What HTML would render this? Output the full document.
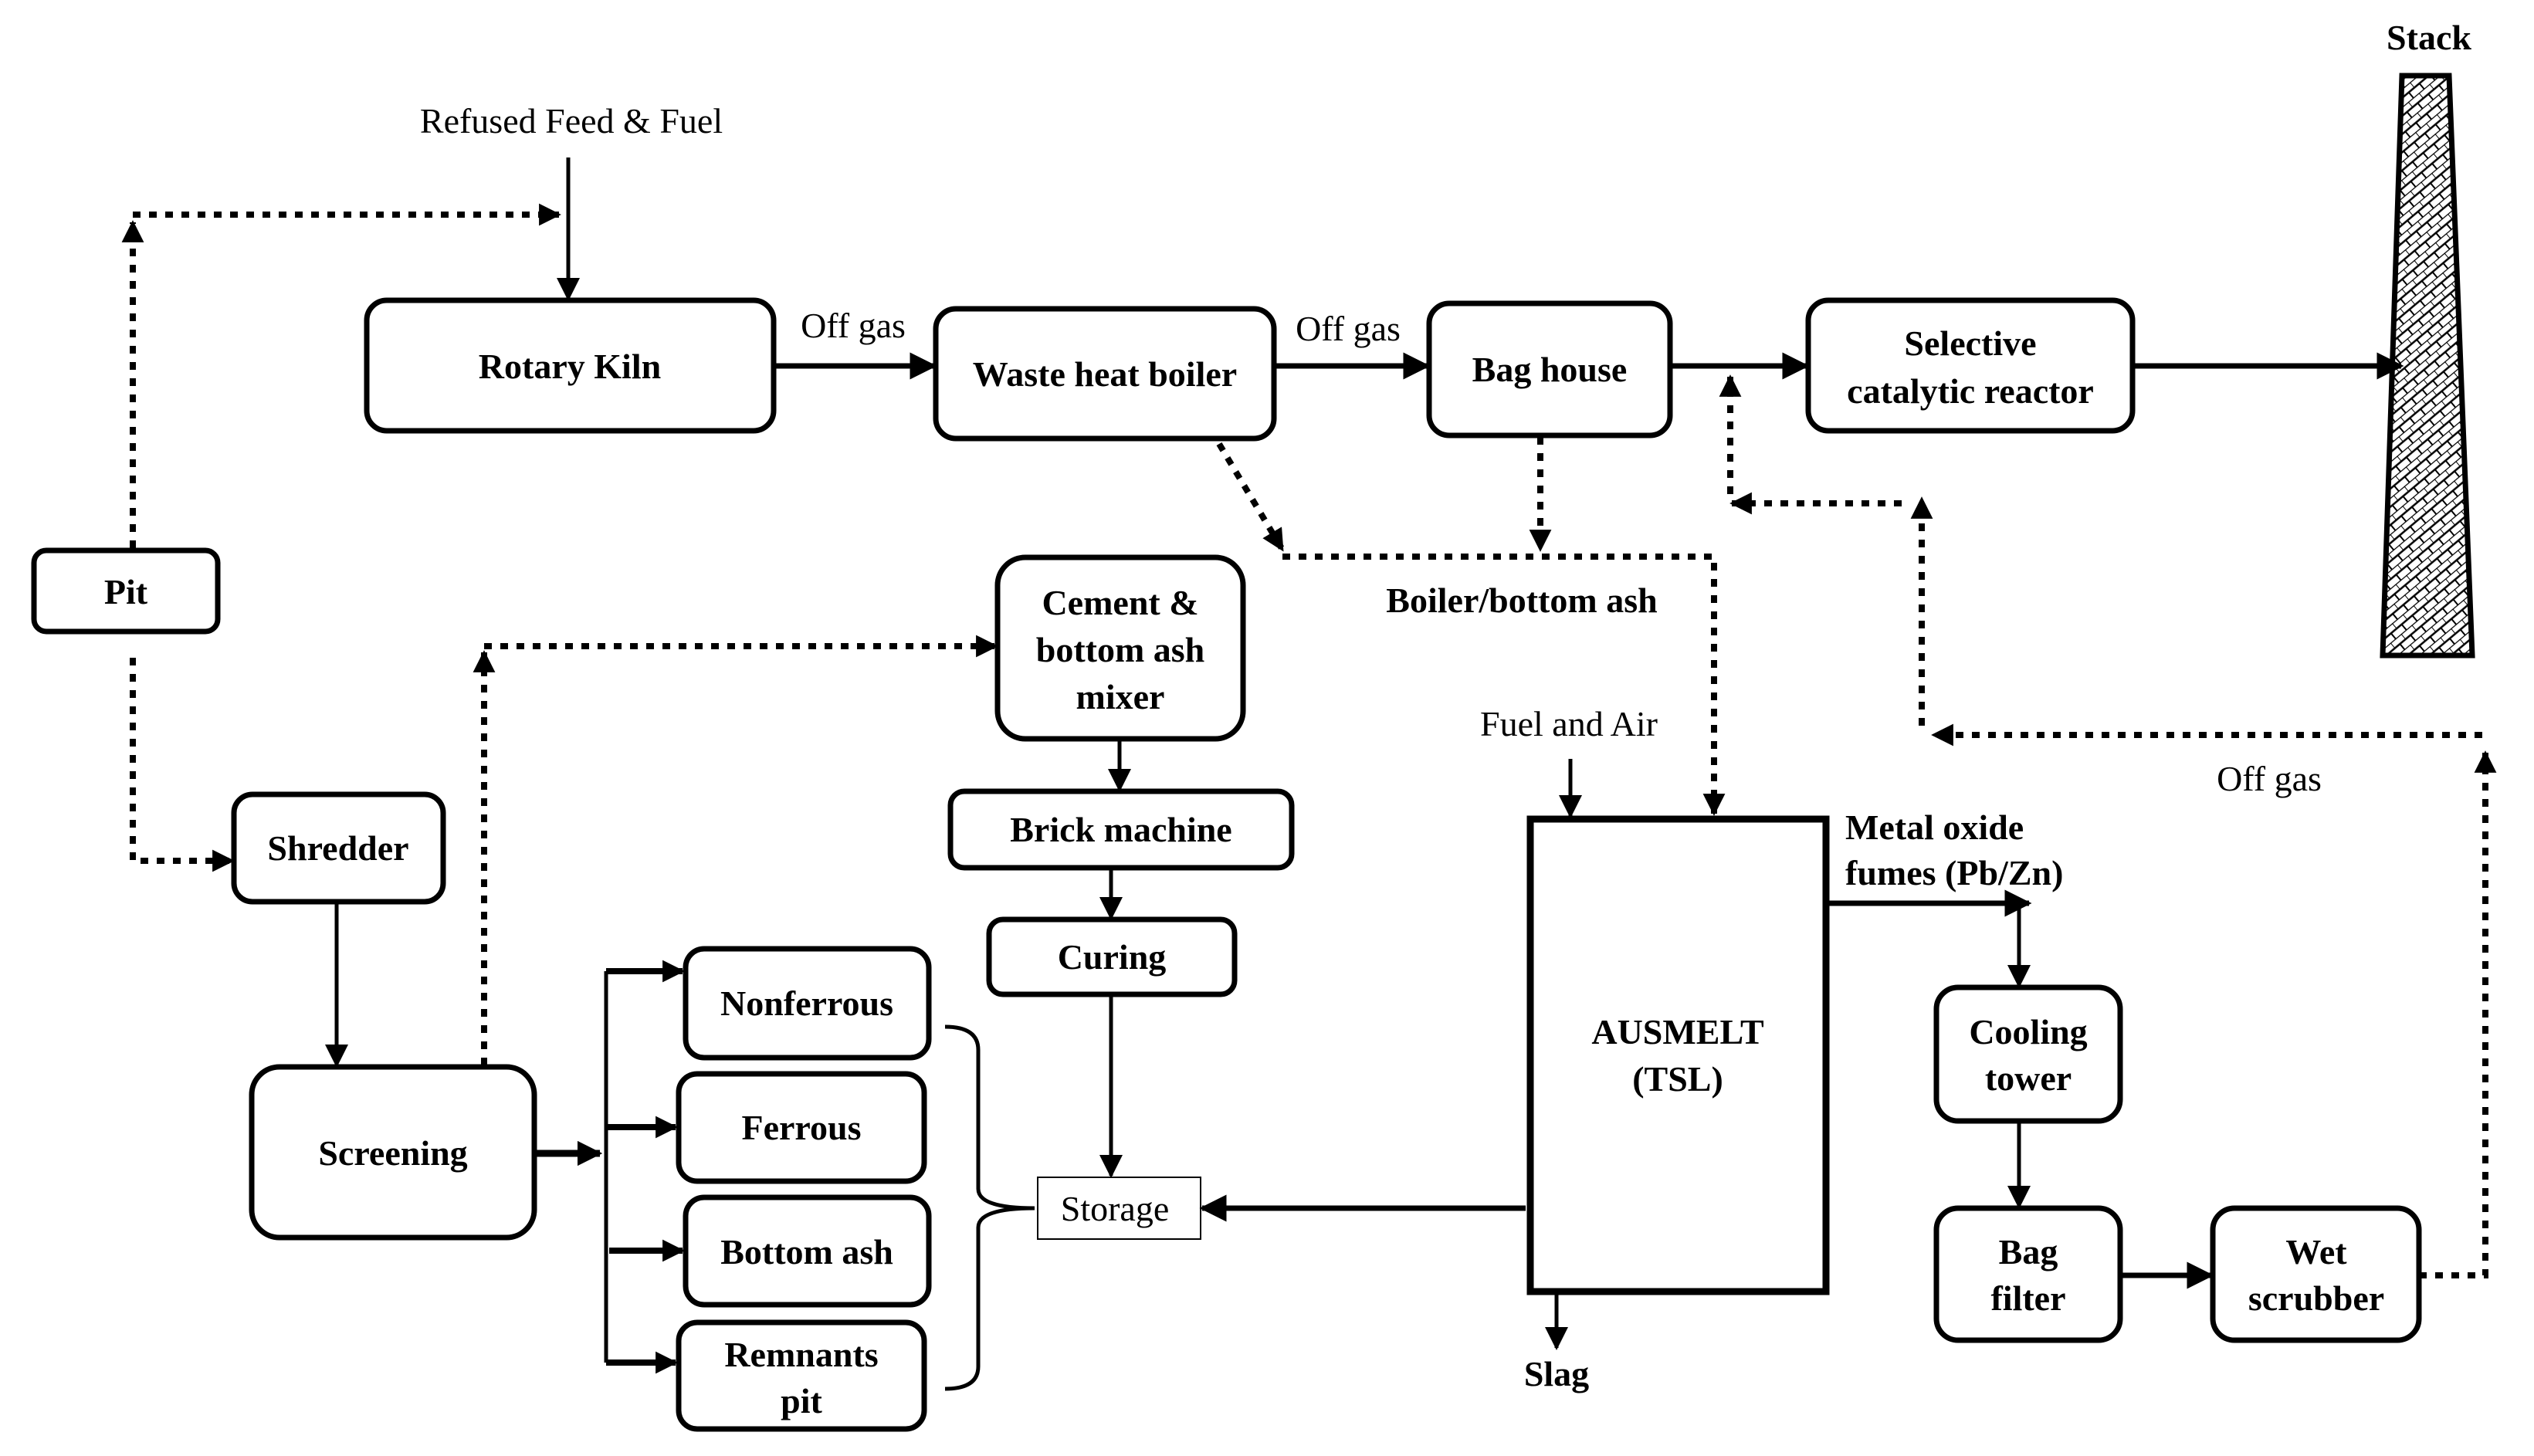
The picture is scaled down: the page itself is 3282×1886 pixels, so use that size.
<!DOCTYPE html>
<html><head><meta charset="utf-8"><style>
html,body{margin:0;padding:0;background:#fff}
svg{display:block}
text{font-family:"Liberation Serif",serif;fill:#000}
.b{font-weight:bold;font-size:46px}
.r{font-size:46px}
</style></head><body>
<svg width="3282" height="1886" viewBox="0 0 3282 1886" xmlns="http://www.w3.org/2000/svg">
<defs>
<marker id="a" viewBox="0 0 10 10" refX="9" refY="5" markerWidth="5" markerHeight="5" orient="auto" markerUnits="strokeWidth"><path d="M0,0L10,5L0,10z"/></marker>
<marker id="s" viewBox="0 0 10 10" refX="9" refY="5" markerWidth="6" markerHeight="6" orient="auto" markerUnits="strokeWidth"><path d="M0,0L10,5L0,10z"/></marker>
<marker id="d" viewBox="0 0 10 10" refX="9" refY="5" markerWidth="3.6" markerHeight="3.6" orient="auto" markerUnits="strokeWidth"><path d="M0,0L10,5L0,10z"/></marker>
<pattern id="h" width="18" height="18" patternUnits="userSpaceOnUse" patternTransform="rotate(-40)">
<rect width="18" height="18" fill="#fff"/>
<line x1="0" y1="0" x2="18" y2="0" stroke="#000" stroke-width="2.5"/>
<line x1="0" y1="0" x2="0" y2="9" stroke="#000" stroke-width="2"/>
<line x1="9" y1="9" x2="9" y2="18" stroke="#000" stroke-width="2"/>
<line x1="0" y1="9" x2="18" y2="9" stroke="#000" stroke-width="2.5"/>
</pattern>
</defs>

<g fill="#fff" stroke="#000" stroke-width="7">
<rect x="475" y="389" width="527" height="169" rx="26"/>
<rect x="1212" y="400" width="438" height="168" rx="26"/>
<rect x="1851" y="393" width="312" height="171" rx="26"/>
<rect x="2342" y="389" width="420" height="169" rx="26"/>
<rect x="44" y="713" width="238" height="105" rx="16"/>
<rect x="303" y="1029" width="271" height="139" rx="24"/>
<rect x="326" y="1382" width="366" height="221" rx="36"/>
<rect x="1292" y="722" width="318" height="235" rx="36"/>
<rect x="1231" y="1025" width="442" height="99" rx="18"/>
<rect x="1281" y="1191" width="318" height="97" rx="18"/>
<rect x="888" y="1229" width="315" height="141" rx="24"/>
<rect x="879" y="1391" width="318" height="139" rx="24"/>
<rect x="888" y="1551" width="315" height="139" rx="24"/>
<rect x="879" y="1713" width="318" height="138" rx="24"/>
<rect x="2508" y="1279" width="238" height="173" rx="28"/>
<rect x="2508" y="1565" width="238" height="171" rx="28"/>
<rect x="2866" y="1565" width="267" height="171" rx="28"/>
<rect x="1982" y="1061" width="383" height="612" rx="0" stroke-width="9"/>
</g>
<rect x="1344" y="1525" width="211" height="80" fill="#fff" stroke="#000" stroke-width="2"/>
<path d="M3111,98 L3172,98 L3202,849 L3086,849 Z" fill="url(#h)" stroke="#000" stroke-width="7"/>

<!-- solid arrows -->
<g stroke="#000" fill="none" stroke-width="7">
<line x1="1002" y1="474" x2="1210" y2="474" marker-end="url(#a)"/>
<line x1="1650" y1="474" x2="1849" y2="474" marker-end="url(#a)"/>
<line x1="2163" y1="474" x2="2340" y2="474" marker-end="url(#a)"/>
<line x1="2762" y1="474" x2="3110" y2="474" marker-end="url(#a)"/>
<line x1="692" y1="1494" x2="777" y2="1494" stroke-width="9" marker-end="url(#d)"/>
<line x1="1976" y1="1565" x2="1557" y2="1565" marker-end="url(#a)"/>
<line x1="2746" y1="1652" x2="2864" y2="1652" marker-end="url(#a)"/>
<line x1="2367" y1="1170" x2="2628" y2="1170" marker-end="url(#a)"/>
</g>
<g stroke="#000" fill="none" stroke-width="5">
<line x1="736" y1="204" x2="736" y2="387" marker-end="url(#s)"/>
<line x1="436" y1="1168" x2="436" y2="1380" marker-end="url(#s)"/>
<line x1="1450" y1="957" x2="1450" y2="1023" marker-end="url(#s)"/>
<line x1="1439" y1="1124" x2="1439" y2="1189" marker-end="url(#s)"/>
<line x1="1439" y1="1288" x2="1439" y2="1523" marker-end="url(#s)"/>
<line x1="2034" y1="983" x2="2034" y2="1057" marker-end="url(#s)"/>
<line x1="2016" y1="1677" x2="2016" y2="1746" marker-end="url(#s)"/>
<line x1="2615" y1="1170" x2="2615" y2="1277" marker-end="url(#s)"/>
<line x1="2615" y1="1452" x2="2615" y2="1563" marker-end="url(#s)"/>
<path d="M785,1258 L785,1765" />
<path d="M1224,1330 Q1267,1330 1267,1360 L1267,1540 Q1267,1565 1340,1565 Q1267,1565 1267,1590 L1267,1770 Q1267,1799 1224,1799"/>
</g>
<g stroke="#000" fill="none" stroke-width="8">
<line x1="785" y1="1258" x2="884" y2="1258" marker-end="url(#d)"/>
<line x1="785" y1="1460" x2="875" y2="1460" marker-end="url(#d)"/>
<line x1="789" y1="1620" x2="884" y2="1620" marker-end="url(#d)"/>
<line x1="785" y1="1765" x2="875" y2="1765" marker-end="url(#d)"/>
</g>

<!-- dotted -->
<g stroke="#000" fill="none" stroke-width="8" stroke-dasharray="10 11">
<path d="M172,710 L172,288" marker-end="url(#d)"/>
<path d="M172,278 L724,278" marker-end="url(#d)"/>
<path d="M172,852 L172,1115 L301,1115" marker-end="url(#d)"/>
<path d="M627,1380 L627,845" marker-end="url(#d)"/>
<path d="M627,837 L1290,837" marker-end="url(#d)"/>
<path d="M1579,575 L1661,712" marker-end="url(#d)"/>
<path d="M1995,566 L1995,712" marker-end="url(#d)"/>
<path d="M1661,721 L2220,721 L2220,1054" marker-end="url(#d)"/>
<path d="M3133,1652 L3219,1652 L3219,975" marker-end="url(#d)"/>
<path d="M3215,952 L2504,952" marker-end="url(#d)"/>
<path d="M2489,940 L2489,646" marker-end="url(#d)"/>
<path d="M2463,652 L2243,652" marker-end="url(#d)"/>
<path d="M2241,640 L2241,488" marker-end="url(#d)"/>
</g>

<!-- labels -->
<g text-anchor="middle">
<text class="r" x="740" y="172">Refused Feed &amp; Fuel</text>
<text class="r" x="1105" y="437">Off gas</text>
<text class="r" x="1746" y="441">Off gas</text>
<text class="b" x="3146" y="64">Stack</text>
<text class="b" x="738" y="490">Rotary Kiln</text>
<text class="b" x="1431" y="500">Waste heat boiler</text>
<text class="b" x="2007" y="494">Bag house</text>
<text class="b" x="2552" y="460">Selective</text>
<text class="b" x="2552" y="522">catalytic reactor</text>
<text class="b" x="163" y="782">Pit</text>
<text class="b" x="438" y="1114">Shredder</text>
<text class="b" x="509" y="1509">Screening</text>
<text class="b" x="1451" y="796">Cement &amp;</text>
<text class="b" x="1451" y="857">bottom ash</text>
<text class="b" x="1451" y="918">mixer</text>
<text class="b" x="1452" y="1090">Brick machine</text>
<text class="b" x="1440" y="1255">Curing</text>
<text class="b" x="1045" y="1315">Nonferrous</text>
<text class="b" x="1038" y="1476">Ferrous</text>
<text class="b" x="1045" y="1637">Bottom ash</text>
<text class="b" x="1038" y="1770">Remnants</text>
<text class="b" x="1038" y="1830">pit</text>
<text class="r" x="1444" y="1581">Storage</text>
<text class="b" x="1971" y="793">Boiler/bottom ash</text>
<text class="r" x="2032" y="953">Fuel and Air</text>
<text class="b" x="2173" y="1352">AUSMELT</text>
<text class="b" x="2173" y="1413">(TSL)</text>
<text class="b" x="2016" y="1795">Slag</text>
<text class="b" x="2627" y="1352">Cooling</text>
<text class="b" x="2627" y="1412">tower</text>
<text class="b" x="2627" y="1637">Bag</text>
<text class="b" x="2627" y="1697">filter</text>
<text class="b" x="3000" y="1637">Wet</text>
<text class="b" x="3000" y="1697">scrubber</text>
<text class="r" x="2939" y="1024">Off gas</text>
</g>
<text class="b" x="2390" y="1087">Metal oxide</text>
<text class="b" x="2390" y="1146">fumes (Pb/Zn)</text>
</svg>
</body></html>
